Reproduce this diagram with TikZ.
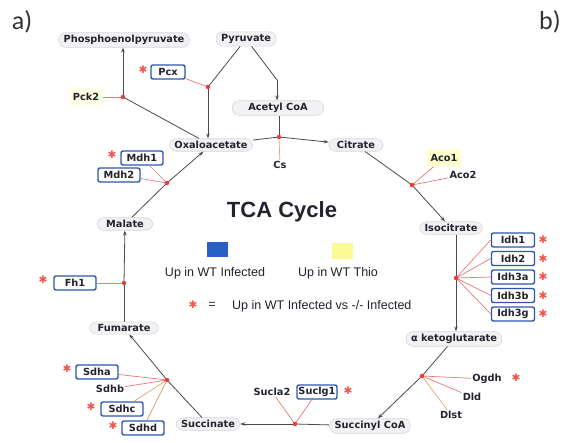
\documentclass[tikz,border=0pt]{standalone}
\usepackage{fontspec}
\setmainfont{DejaVu Sans}
\newfontfamily\labfont{DejaVu Sans}
\newfontfamily\legfont{Liberation Sans}
\newfontfamily\panelfont{Carlito}
\usetikzlibrary{arrows.meta}
\definecolor{boxblue}{RGB}{45,85,175}
\definecolor{legblue}{RGB}{40,95,200}
\definecolor{tyellow}{RGB}{255,255,205}
\definecolor{pyellow}{RGB}{255,255,228}
\definecolor{legyellow}{RGB}{250,250,150}
\definecolor{jred}{RGB}{232,62,62}
\definecolor{ered}{RGB}{236,120,120}
\definecolor{eorange}{RGB}{225,165,110}
\definecolor{starred}{RGB}{238,85,75}
\definecolor{mfill}{RGB}{242,242,245}
\definecolor{mdraw}{RGB}{215,215,221}
\definecolor{txt}{RGB}{35,35,45}
\definecolor{mainline}{RGB}{75,75,75}
\begin{document}
\begin{tikzpicture}[x=1pt,y=-1pt,
 labf/.style={font=\labfont\bfseries\fontsize{9.8}{11}\selectfont, text=txt},
 met/.style={labf, rectangle, rounded corners=7pt, fill=mfill, draw=mdraw, line width=0.6pt, inner xsep=5pt, inner ysep=2.5pt},
 enzb/.style={labf, rectangle, rounded corners=2pt, draw=boxblue, line width=1.4pt, fill=white, minimum width=42pt, minimum height=14pt, inner sep=1pt},
 enzy/.style={labf, rectangle, rounded corners=1pt, fill=tyellow, minimum width=34pt, minimum height=17pt, inner sep=1pt},
 enzp/.style={labf, inner sep=1pt},
 jn/.style={circle, fill=jred, inner sep=0pt, minimum size=4.5pt},
 rx/.style={draw=mainline, line width=0.8pt},
 arr/.style={rx, -{Stealth[length=5pt,width=3.5pt]}},
 el/.style={draw=ered, line width=0.7pt},
 eo/.style={draw=eorange, line width=0.7pt},
 star/.style={text=starred, font=\labfont\fontsize{10.5}{10.5}\selectfont, inner sep=0pt},
 legtext/.style={font=\legfont\fontsize{12.5}{13}\selectfont, text=txt, inner sep=0pt}
]
\useasboundingbox (0,0) rectangle (562,443);
\fill[white] (0,0) rectangle (562,443);

% panel labels
\node[font=\panelfont\fontsize{26}{26}\selectfont, text=black!80] (pa) at (22,22) {a)};
\node[font=\panelfont\fontsize{26}{26}\selectfont, text=black!80] (pb) at (550,22) {b)};

% metabolites
\node[met] (pep) at (124,40) {Phosphoenolpyruvate};
\node[met] (pyr) at (246,39) {Pyruvate};
\node[met, inner xsep=16pt] (acoa) at (278,108) {Acetyl CoA};
\node[met] (oxa) at (211,145) {Oxaloacetate};
\node[met, inner xsep=8pt] (cit) at (356,145) {Citrate};
\node[met] (iso) at (451,228) {Isocitrate};
\node[met] (akg) at (454,339) {α ketoglutarate};
\node[met] (sca) at (370,426) {Succinyl CoA};
\node[met] (suc) at (208,424) {Succinate};
\node[met, inner xsep=8pt] (fum) at (124,328) {Fumarate};
\node[met, inner xsep=9pt] (mal) at (125,224) {Malate};

% enzymes
\node[enzb, minimum width=34pt] (pcx) at (168,72) {Pcx};
\node[enzy, fill=pyellow] (pck2) at (86,97) {Pck2};
\node[enzb] (mdh1) at (142,158) {Mdh1};
\node[enzb] (mdh2) at (119,175) {Mdh2};
\node[enzb] (fh1) at (75,283) {Fh1};
\node[enzb] (sdha) at (97,372) {Sdha};
\node[enzp] (sdhb) at (110,389) {Sdhb};
\node[enzb] (sdhc) at (122,409) {Sdhc};
\node[enzb] (sdhd) at (143,428) {Sdhd};
\node[enzp] (sucla2) at (272,392) {Sucla2};
\node[enzb, minimum width=40pt] (suclg1) at (317,392) {Suclg1};
\node[enzp] (ogdh) at (487,379) {Ogdh};
\node[enzp] (dld) at (472,397) {Dld};
\node[enzp] (dlst) at (451,415) {Dlst};
\node[enzb, minimum width=43pt] (idh1) at (513,240) {Idh1};
\node[enzb, minimum width=43pt] (idh2) at (513,258.5) {Idh2};
\node[enzb, minimum width=43pt] (idh3a) at (513,277) {Idh3a};
\node[enzb, minimum width=43pt] (idh3b) at (513,295.5) {Idh3b};
\node[enzb, minimum width=43pt] (idh3g) at (513,314) {Idh3g};
\node[enzy] (aco1) at (444,158) {Aco1};
\node[enzp] (aco2) at (463,175) {Aco2};
\node[enzp] (cs) at (280,165) {Cs};

% junctions
\coordinate (pckj) at (123,97);
\coordinate (pcxj) at (208,87);
\coordinate (bendA) at (277,80);
\coordinate (csj) at (279,137);
\coordinate (acoj) at (412,185);
\coordinate (idhj) at (456,278);
\coordinate (ogdhj) at (422,376);
\coordinate (suclj) at (295,424);
\coordinate (sdhj) at (167,380);
\coordinate (fhj) at (124,283);
\coordinate (mdhj) at (167,183);

% enzyme links
\draw[el] (pcx) -- (pcxj);
\draw[el] (pck2) -- (pckj);
\draw[eo] (cs) -- (csj);
\draw[el] (aco1) -- (acoj);
\draw[el] (aco2) -- (acoj);
\foreach \e in {idh1,idh2,idh3a,idh3b,idh3g} \draw[el] (\e.west) -- (idhj);
\draw[el] (ogdh) -- (ogdhj);
\draw[el] (dld) -- (ogdhj);
\draw[eo] (dlst) -- (ogdhj);
\draw[el] (sucla2) -- (suclj);
\draw[el] (suclg1) -- (suclj);
\draw[el] (sdha) -- (sdhj);
\draw[el] (sdhb) -- (sdhj);
\draw[eo] (sdhc) -- (sdhj);
\draw[eo] (sdhd) -- (sdhj);
\draw[el] (fh1) -- (fhj);
\draw[el] (mdh1) -- (mdhj);
\draw[el] (mdh2) -- (mdhj);

% reactions
\draw[rx] (pyr) -- (pcxj);
\draw[arr] (pcxj) -- (pcxj |- oxa.north);
\draw[rx] (pyr) -- (bendA);
\draw[arr] (bendA) -- (bendA |- acoa.north);
\draw[rx] (oxa) -- (pckj);
\draw[arr] (pckj) -- (pckj |- pep.south);
\draw[rx] (oxa) -- (csj);
\draw[rx] (csj |- acoa.south) -- (csj);
\draw[arr] (csj) -- (cit);
\draw[rx] (cit) -- (acoj);
\draw[arr] (acoj) -- (iso);
\draw[rx] (idhj |- iso.south) -- (idhj);
\draw[arr] (idhj) -- (idhj |- akg.north);
\draw[rx] (akg) -- (ogdhj);
\draw[arr] (ogdhj) -- (sca);
\draw[rx] (sca) -- (suclj);
\draw[arr] (suclj) -- (suc);
\draw[rx] (suc) -- (sdhj);
\draw[arr] (sdhj) -- (fum);
\draw[rx] (fum) -- (fhj);
\draw[arr] (fhj) -- (mal);
\draw[rx] (mal) -- (mdhj);
\draw[arr] (mdhj) -- (oxa);

% junction dots
\foreach \j in {pckj,pcxj,csj,acoj,idhj,ogdhj,suclj,sdhj,fhj,mdhj} \node[jn] at (\j) {};

% stars
\node[star] (s1) at (143,70) {✱};
\node[star] (s2) at (112,155) {✱};
\node[star] (s3) at (43,280) {✱};
\node[star] (s4) at (67,369) {✱};
\node[star] (s5) at (91,407) {✱};
\node[star] (s6) at (113,426) {✱};
\node[star] (s7) at (348,391) {✱};
\node[star] (s8) at (516,378) {✱};
\node[star] (s9) at (543,240) {✱};
\node[star] (s10) at (543,258.5) {✱};
\node[star] (s11) at (543,277) {✱};
\node[star] (s12) at (543,295.5) {✱};
\node[star] (s13) at (543,314) {✱};

% title and legend
\node[font=\legfont\bfseries\fontsize{22}{24}\selectfont, text=txt] (title) at (282,212) {TCA Cycle};
\node[fill=legblue, minimum width=21pt, minimum height=15pt, inner sep=0pt] (lblue) at (217,250) {};
\node[fill=legyellow, minimum width=21pt, minimum height=16pt, inner sep=0pt] (lyellow) at (342,251) {};
\node[legtext] (tblue) at (215,273) {Up in WT Infected};
\node[legtext] (tyel) at (338,273) {Up in WT Thio};
\node[star] (lstar) at (193,305) {✱};
\node[legtext] (leq) at (212,305) {=};
\node[legtext, anchor=west] (tstar) at (232,306) {Up in WT Infected vs -/- Infected};
\end{tikzpicture}
\end{document}
